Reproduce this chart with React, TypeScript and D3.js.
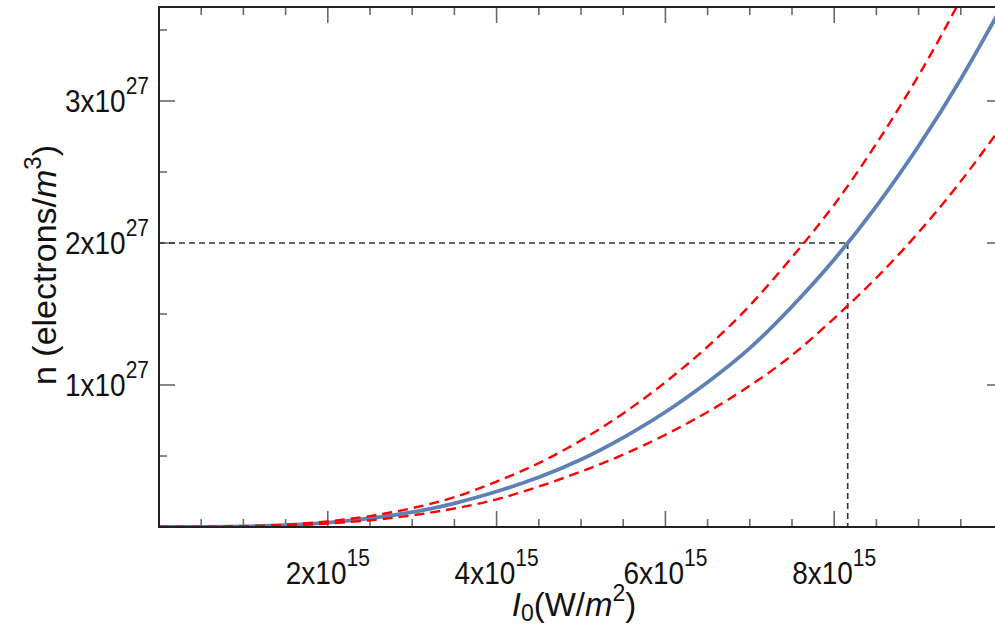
import React from "react";
import * as d3 from "d3";

// Intensity samples, in units of 1e15 W/m^2
const intensity = [0, 0.5, 1, 1.5, 2, 2.5, 3, 3.5, 4, 4.5, 5, 5.5, 6, 6.5, 7, 7.5, 8, 8.5, 9, 9.5, 10];
// Electron density, in units of 1e27 electrons/m^3
const densityCentral = [0, 0.0005, 0.004, 0.013, 0.031, 0.06, 0.104, 0.167, 0.25, 0.35, 0.475, 0.63, 0.81, 1.02, 1.26, 1.553, 1.884, 2.26, 2.683, 3.155, 3.68];
const densityUpper = [0, 0.0006, 0.005, 0.016, 0.04, 0.077, 0.133, 0.21, 0.32, 0.45, 0.61, 0.8, 1.02, 1.27, 1.56, 1.9, 2.27, 2.7, 3.18, 3.72, 4.32];
const densityLower = [0, 0.0004, 0.003, 0.01, 0.025, 0.047, 0.082, 0.13, 0.195, 0.285, 0.39, 0.51, 0.65, 0.81, 0.995, 1.21, 1.47, 1.755, 2.075, 2.435, 2.835];

// Reference point on the central curve
const markerDensity = 2;
const markerIntensity = 8.16;

const xMajorTicks = [2, 4, 6, 8];
const xMajorLabels = ["2x10", "4x10", "6x10", "8x10"];
const xExponent = "15";
const yMajorTicks = [1, 2, 3];
const yMajorLabels = ["1x10", "2x10", "3x10"];
const yExponent = "27";

const W = 995;
const H = 625;
const left = 159;
const right = 1003;
const top = 7;
const bottom = 527;

export default function App() {
  const x = d3.scaleLinear().domain([0, 10]).range([left, right]);
  const y = d3.scaleLinear().domain([0, 3.662]).range([bottom, top]);

  const line = (vals: number[]) =>
    d3
      .line<number>()
      .x((_, i) => x(intensity[i]))
      .y((d) => y(d))
      .curve(d3.curveNatural)(vals) as string;

  const xMinor = d3.range(0.5, 10.01, 0.5).filter((v) => Math.abs(v % 2) > 1e-9);
  const yMinor = d3.range(0.5, 3.66, 0.5).filter((v) => Math.abs(v % 1) > 1e-9);

  const font = "'Liberation Sans', Arial, Helvetica, sans-serif";
  const tickColor = "#6a6a6a";
  const stretch = "scale(1,1.13)";

  return (
    <svg
      width={W}
      height={H}
      style={{ position: "absolute", left: 0, top: 0, background: "#fff" }}
      fontFamily={font}
    >
      <defs>
        <clipPath id="plotArea">
          <rect x={left} y={top} width={right - left} height={bottom - top} />
        </clipPath>
      </defs>

      {/* ticks on all four sides */}
      <g stroke={tickColor} strokeWidth={1.6}>
        {xMajorTicks.map((v) => (
          <g key={"xM" + v}>
            <line x1={x(v)} x2={x(v)} y1={bottom} y2={bottom - 16} />
            <line x1={x(v)} x2={x(v)} y1={top} y2={top + 16} />
          </g>
        ))}
        {xMinor.map((v) => (
          <g key={"xm" + v}>
            <line x1={x(v)} x2={x(v)} y1={bottom} y2={bottom - 8} />
            <line x1={x(v)} x2={x(v)} y1={top} y2={top + 8} />
          </g>
        ))}
        {yMajorTicks.map((v) => (
          <g key={"yM" + v}>
            <line x1={left} x2={left + 16} y1={y(v)} y2={y(v)} />
            <line x1={right} x2={right - 16} y1={y(v)} y2={y(v)} />
          </g>
        ))}
        {yMinor.map((v) => (
          <g key={"ym" + v}>
            <line x1={left} x2={left + 8} y1={y(v)} y2={y(v)} />
            <line x1={right} x2={right - 8} y1={y(v)} y2={y(v)} />
          </g>
        ))}
      </g>

      {/* guide lines to the reference point */}
      <g stroke="#333" strokeWidth={1.6} strokeDasharray="6,4" fill="none">
        <line x1={left} x2={x(markerIntensity)} y1={y(markerDensity)} y2={y(markerDensity)} />
        <line x1={x(markerIntensity)} x2={x(markerIntensity)} y1={y(markerDensity)} y2={bottom} />
      </g>

      <g clipPath="url(#plotArea)" fill="none">
        <path d={line(densityCentral)} stroke="#5E81B5" strokeWidth={3.8} />
        <path d={line(densityUpper)} stroke="#FF0000" strokeWidth={2.4} strokeDasharray="10,6" />
        <path d={line(densityLower)} stroke="#FF0000" strokeWidth={2.4} strokeDasharray="10,6" />
      </g>

      {/* frame */}
      <rect
        x={left}
        y={top}
        width={right - left}
        height={bottom - top}
        fill="none"
        stroke="#222"
        strokeWidth={2}
      />

      {/* x tick labels */}
      {xMajorTicks.map((v, i) => (
        <text
          key={"xl" + v}
          transform={`translate(${x(v)},584) ${stretch}`}
          textAnchor="middle"
          fontSize={28}
          fill="#111"
        >
          {xMajorLabels[i]}
          <tspan fontSize={21} dy={-16}>
            {xExponent}
          </tspan>
        </text>
      ))}

      {/* y tick labels */}
      {yMajorTicks.map((v, i) => (
        <text
          key={"yl" + v}
          transform={`translate(149,${y(v) + 11}) ${stretch}`}
          textAnchor="end"
          fontSize={28}
          fill="#111"
        >
          {yMajorLabels[i]}
          <tspan fontSize={21} dy={-16}>
            {yExponent}
          </tspan>
        </text>
      ))}

      {/* axis titles */}
      <text x={574} y={616} textAnchor="middle" fontSize={33} fill="#111">
        <tspan fontStyle="italic">I</tspan>
        <tspan fontSize={23} dy={5}>0</tspan>
        <tspan dy={-5}>(W/</tspan>
        <tspan fontStyle="italic">m</tspan>
        <tspan fontSize={23} dy={-15}>2</tspan>
        <tspan dy={15}>)</tspan>
      </text>
      <text
        transform="translate(56,265) rotate(-90)"
        textAnchor="middle"
        fontSize={34}
        fill="#111"
      >
        n (electrons/
        <tspan fontStyle="italic">m</tspan>
        <tspan fontSize={24} dy={-15}>3</tspan>
        <tspan dy={15}>)</tspan>
      </text>
    </svg>
  );
}
